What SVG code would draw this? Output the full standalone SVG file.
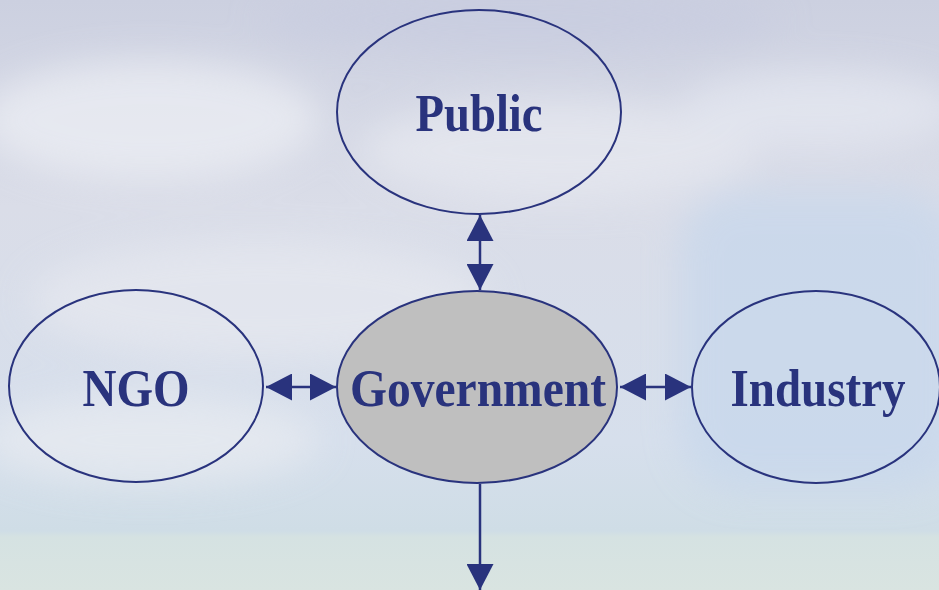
<svg xmlns="http://www.w3.org/2000/svg" width="939" height="590" viewBox="0 0 939 590">
<defs>
<linearGradient id="sky" x1="0" y1="0" x2="0" y2="1">
<stop offset="0" stop-color="#ccd0e0"/>
<stop offset="0.35" stop-color="#dadde8"/>
<stop offset="0.75" stop-color="#d6dfec"/>
<stop offset="0.9" stop-color="#cfdde6"/>
<stop offset="0.91" stop-color="#d5e2e2"/>
<stop offset="1" stop-color="#d9e4e1"/>
</linearGradient>
<filter id="blur" x="-50%" y="-50%" width="200%" height="200%"><feGaussianBlur stdDeviation="18"/></filter>
<marker id="ah" markerWidth="27" markerHeight="27" refX="26" refY="13.5" orient="auto-start-reverse" markerUnits="userSpaceOnUse">
<path d="M0,0 L26,13.5 L0,27 Z" fill="#29337d"/>
</marker>
<style>
.node{stroke:#29337d;stroke-width:2;fill:none}
.gov{fill:#bfbfbf}
.lbl{font-family:"Liberation Serif","Times New Roman",serif;font-weight:bold;font-size:52px;fill:#29337d;text-anchor:middle}
.conn{stroke:#29337d;stroke-width:2.5;fill:none}
</style>
</defs>
<g id="background">
<rect width="939" height="590" fill="url(#sky)"/>
<g filter="url(#blur)" opacity="0.7">
<ellipse cx="150" cy="120" rx="170" ry="60" fill="#eef0f5"/>
<ellipse cx="560" cy="150" rx="200" ry="50" fill="#e8eaf1"/>
<ellipse cx="820" cy="110" rx="140" ry="40" fill="#e6e9f2"/>
<ellipse cx="260" cy="300" rx="230" ry="60" fill="#e7e9f0"/>
<ellipse cx="150" cy="440" rx="170" ry="45" fill="#e9ecf1"/>
<rect x="680" y="190" width="280" height="300" rx="60" fill="#c6d7ec"/>
<ellipse cx="520" cy="20" rx="260" ry="30" fill="#c8cce0"/>
</g>
</g>
<g id="connectors">
<line class="conn" x1="480" y1="215" x2="480" y2="290" marker-start="url(#ah)" marker-end="url(#ah)"/>
<line class="conn" x1="266" y1="387" x2="336" y2="387" marker-start="url(#ah)" marker-end="url(#ah)"/>
<line class="conn" x1="620" y1="387" x2="691" y2="387" marker-start="url(#ah)" marker-end="url(#ah)"/>
<line class="conn" x1="480" y1="484" x2="480" y2="590" marker-end="url(#ah)"/>
</g>
<g id="public">
<ellipse class="node" cx="479" cy="112" rx="142" ry="102"/>
<text class="lbl" x="479" y="131" textLength="127" lengthAdjust="spacingAndGlyphs">Public</text>
</g>
<g id="government">
<ellipse class="node gov" cx="477" cy="387" rx="140" ry="96"/>
<text class="lbl" x="478" y="406" textLength="256" lengthAdjust="spacingAndGlyphs">Government</text>
</g>
<g id="ngo">
<ellipse class="node" cx="136" cy="386" rx="127" ry="96"/>
<text class="lbl" x="136" y="406" textLength="107" lengthAdjust="spacingAndGlyphs">NGO</text>
</g>
<g id="industry">
<ellipse class="node" cx="816" cy="387" rx="124" ry="96"/>
<text class="lbl" x="818" y="406" textLength="175" lengthAdjust="spacingAndGlyphs">Industry</text>
</g>
</svg>
